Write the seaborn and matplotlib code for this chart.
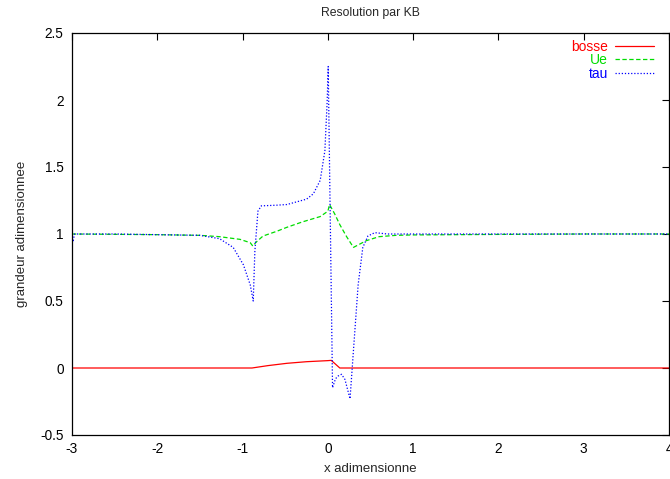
import matplotlib
matplotlib.use("Agg")
import matplotlib.pyplot as plt
import seaborn as sns
import pandas as pd

# --- data ---
bosse_x = [-3, -0.89, -0.7, -0.48, -0.25, 0.0, 0.04, 0.14, 4]
bosse_y = [0, 0, 0.018, 0.035, 0.047, 0.055, 0.057, 0, 0]

ue_x = [-3, -2, -1.5, -1.27, -1.03, -0.91, -0.88, -0.84, -0.76, -0.6, -0.48, -0.3, -0.09,
        0.0, 0.02, 0.08, 0.14, 0.22, 0.30, 0.36, 0.45, 0.6, 0.8, 1.0, 2, 3, 4]
ue_y = [1.0, 0.995, 0.99, 0.98, 0.96, 0.935, 0.91, 0.94, 0.985, 1.02, 1.05, 1.09, 1.13,
        1.17, 1.22, 1.15, 1.07, 0.98, 0.90, 0.92, 0.95, 0.98, 0.99, 0.993, 0.997, 1.0, 1.0]

tau_x = [-3, -2.99, -2.97, -2.5, -2, -1.5, -1.27, -1.11, -0.99, -0.91, -0.875, -0.856, -0.82,
         -0.78, -0.6, -0.48, -0.25, -0.17, -0.09, -0.035, -0.008, 0.004, 0.055, 0.09, 0.12,
         0.16, 0.2, 0.26, 0.30, 0.355, 0.41, 0.47, 0.55, 0.7, 1.0, 2, 3, 4]
tau_y = [1.0, 0.94, 1.0, 1.0, 0.995, 0.99, 0.965, 0.90, 0.77, 0.62, 0.50, 0.87, 1.17,
         1.21, 1.215, 1.22, 1.26, 1.30, 1.40, 1.62, 1.99, 2.25, -0.147, -0.08, -0.06,
         -0.047, -0.085, -0.23, 0.13, 0.62, 0.90, 0.985, 1.01, 1.0, 1.0, 1.0, 1.0, 1.0]

x_ticks = [-3, -2, -1, 0, 1, 2, 3, 4]
y_ticks = [-0.5, 0, 0.5, 1, 1.5, 2, 2.5]
y_tick_labels = ["-0.5", "0", "0.5", "1", "1.5", "2", "2.5"]

sns.set_style("white")
plt.rcParams['font.family'] = ['Liberation Sans', 'DejaVu Sans']

W, H = 670, 479
fig = plt.figure(figsize=(W / 100, H / 100), dpi=100)
ax = fig.add_axes([72 / W, 1 - 435 / H, (669 - 72) / W, (435 - 33) / H])

sns.lineplot(x=bosse_x, y=bosse_y, ax=ax, color="#ff0000", lw=0.9, label="bosse",
             estimator=None, sort=False)
sns.lineplot(x=ue_x, y=ue_y, ax=ax, color="#00dd00", lw=0.9, label="Ue",
             estimator=None, sort=False, linestyle=(0, (3.5, 2)))
sns.lineplot(x=tau_x, y=tau_y, ax=ax, color="#0000ff", lw=0.9, label="tau",
             estimator=None, sort=False, linestyle=(0, (1, 1.5)))

ax.set_xlim(-3, 4)
ax.set_ylim(-0.5, 2.5)
ax.set_xticks(x_ticks)
ax.set_xticklabels([str(t) for t in x_ticks])
ax.set_yticks(y_ticks)
ax.set_yticklabels(y_tick_labels)
ax.tick_params(direction="in", length=5, width=0.8, top=True, right=True,
               labelsize=9.8, colors="black", pad=6)
ax.tick_params(axis="x", pad=5)
for s in ax.spines.values():
    s.set_visible(True)
    s.set_color("black")
    s.set_linewidth(0.9)

ax.set_title("Resolution par KB", fontsize=8.8, pad=12)
ax.set_xlabel("x adimensionne", fontsize=9.5, labelpad=5)
ax.set_ylabel("grandeur adimensionnee", fontsize=9.5, labelpad=9)

leg = ax.legend(loc="upper right", frameon=False, markerfirst=False, fontsize=10,
                handlelength=2.8, labelspacing=-0.05, handletextpad=0.5,
                borderpad=0, borderaxespad=0,
                bbox_to_anchor=(654 / W, 1 - 40 / H), bbox_transform=fig.transFigure)
for txt, col in zip(leg.get_texts(), ["#ff0000", "#00dd00", "#0000ff"]):
    txt.set_color(col)
    txt.set_ha("right")

fig.savefig("out.png", dpi=100)
